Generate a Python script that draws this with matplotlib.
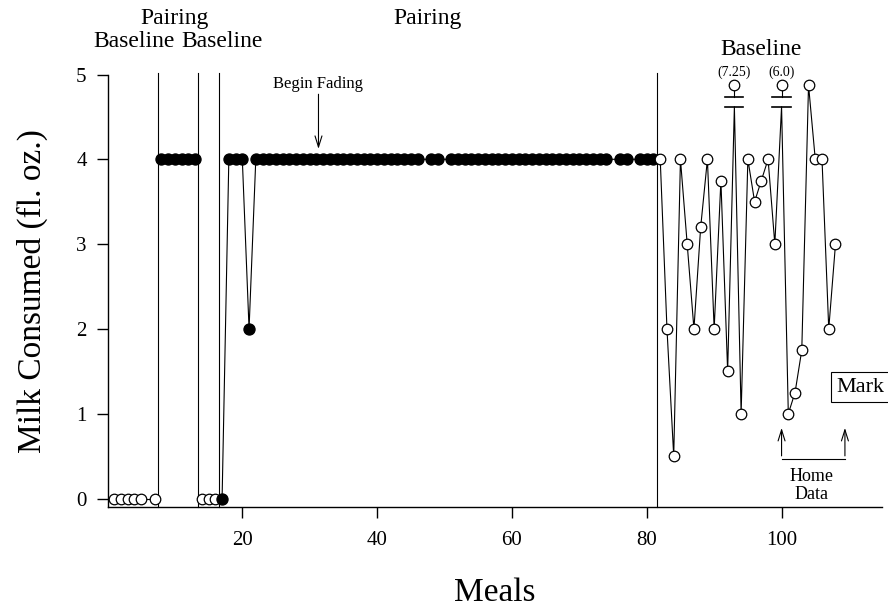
import matplotlib
matplotlib.use("Agg")
import matplotlib.pyplot as plt
import numpy as np

plt.rcParams['font.family'] = ['Liberation Serif', 'DejaVu Serif']

# ---- data ----
base1_meals = [1, 2, 3, 4, 5, 7]
base1_vals = [0, 0, 0, 0, 0, 0]

pair1_meals = [8, 9, 10, 11, 12, 13]
pair1_vals = [4, 4, 4, 4, 4, 4]

base2_meals = [14, 15, 16]
base2_vals = [0, 0, 0]

pair2_meals = [17, 18, 19, 20, 21,
               22, 23, 24, 25, 26, 27, 28, 29, 30, 31, 32, 33, 34, 35, 36, 37, 38, 39, 40,
               41, 42, 43, 44, 45, 46, 48, 49,
               51, 52, 53, 54, 55, 56, 57, 58, 59, 60, 61, 62, 63, 64, 65, 66, 67, 68, 69, 70,
               71, 72, 73, 74, 76, 77, 79, 80, 81]
pair2_vals = [0, 4, 4, 4, 2,
              4, 4, 4, 4, 4, 4, 4, 4, 4, 4, 4, 4, 4, 4, 4, 4, 4, 4, 4,
              4, 4, 4, 4, 4, 4, 4, 4,
              4, 4, 4, 4, 4, 4, 4, 4, 4, 4, 4, 4, 4, 4, 4, 4, 4, 4, 4, 4,
              4, 4, 4, 4, 4, 4, 4, 4, 4]

base3_meals = [82, 83, 84, 85, 86, 87, 88, 89, 90, 91, 92, 93, 94, 95, 96, 97, 98, 99,
               100, 101, 102, 103, 104, 105, 106, 107, 108]
base3_vals = [4, 2, 0.5, 4, 3, 2, 3.2, 4, 2, 3.75, 1.5, 7.25, 1, 4, 3.5, 3.75, 4, 3,
              6.0, 1, 1.25, 1.75, 4.875, 4, 4, 2, 3]

phase_lines = [7.5, 13.5, 16.5, 81.5]
x_ticks = [20, 40, 60, 80, 100]
y_ticks = [0, 1, 2, 3, 4, 5]

BREAK_TOP = 4.875   # plotted position of off-scale values
BREAK_LOW = 4.62    # where connecting lines end at an axis break

fig = plt.figure(figsize=(8.88, 6.12), dpi=100)
ax = fig.add_axes([107.5 / 888, 1 - 507 / 612, (882 - 107.5) / 888, (507 - 74.5) / 612])
ax.set_xlim(0, 114.9)
ax.set_ylim(-0.1, 5.0)

lw = 0.8
ms = 7.6
open_kw = dict(marker='o', ms=ms, mfc='white', mec='black', mew=0.9, color='black', lw=lw, clip_on=False, zorder=3)
fill_kw = dict(marker='o', ms=ms + 0.4, mfc='black', mec='black', mew=0.9, color='black', lw=lw, clip_on=False, zorder=3)

ax.plot(base1_meals, base1_vals, **open_kw)
ax.plot(pair1_meals, pair1_vals, **fill_kw)
ax.plot(base2_meals, base2_vals, **open_kw)
ax.plot(pair2_meals, pair2_vals, **fill_kw)

# final baseline with broken off-scale points
b3x = np.array(base3_meals, dtype=float)
b3v = np.array(base3_vals, dtype=float)
off = b3v > 5
line_v = np.where(off, BREAK_LOW, b3v)
ax.plot(b3x, line_v, color='black', lw=lw, zorder=2, clip_on=False)
mark_v = np.where(off, BREAK_TOP, b3v)
ax.plot(b3x, mark_v, ls='none', marker='o', ms=ms, mfc='white', mec='black', mew=0.9,
        zorder=4, clip_on=False)
for xv, val in zip(b3x[off], b3v[off]):
    ax.plot([xv, xv], [BREAK_TOP, 4.73], color='black', lw=lw, zorder=3, clip_on=False)
    ax.plot([xv - 1.35, xv + 1.35], [4.73, 4.73], color='black', lw=1.2, zorder=3, clip_on=False)
    ax.plot([xv - 1.35, xv + 1.35], [BREAK_LOW, BREAK_LOW], color='black', lw=1.2, zorder=3, clip_on=False)
    ax.text(xv, 5.03, f"({val:g})" if val != 6.0 else "(6.0)", ha='center', va='center',
            fontsize=10)

# phase change lines
for p in phase_lines:
    ax.plot([p, p], [-0.1, 5.02], color='black', lw=lw, zorder=1, clip_on=False)

# axes styling
for s in ['top', 'right']:
    ax.spines[s].set_visible(False)
for s in ['left', 'bottom']:
    ax.spines[s].set_linewidth(1.0)
ax.set_xticks(x_ticks)
ax.set_yticks(y_ticks)
ax.tick_params(axis='both', direction='out', length=8, width=1.0, labelsize=15, pad=7)
ax.tick_params(axis='x', pad=9)

ax.set_xlabel("Meals", fontsize=24, labelpad=20)
ax.set_ylabel("Milk Consumed (fl. oz.)", fontsize=24, labelpad=20)

# phase labels
ax.text(9.9, 5.66, "Pairing", ha='center', va='center', fontsize=17, clip_on=False)
ax.text(3.9, 5.39, "Baseline", ha='center', va='center', fontsize=17, clip_on=False)
ax.text(17.0, 5.39, "Baseline", ha='center', va='center', fontsize=17, clip_on=False)
ax.text(47.5, 5.66, "Pairing", ha='center', va='center', fontsize=17, clip_on=False)
ax.text(96.9, 5.30, "Baseline", ha='center', va='center', fontsize=17, clip_on=False)

# Begin Fading arrow
ax.annotate("", xy=(31.3, 4.09), xytext=(31.3, 4.80),
            arrowprops=dict(arrowstyle='->,head_length=0.8,head_width=0.25', color='black', lw=0.8))
ax.text(31.3, 4.89, "Begin Fading", ha='center', va='center', fontsize=12)

# Home data bracket
ax.annotate("", xy=(100.0, 0.865), xytext=(100.0, 0.47),
            arrowprops=dict(arrowstyle='->,head_length=0.8,head_width=0.25', color='black', lw=0.8))
ax.annotate("", xy=(109.4, 0.865), xytext=(109.4, 0.47),
            arrowprops=dict(arrowstyle='->,head_length=0.8,head_width=0.25', color='black', lw=0.8))
ax.plot([100.0, 109.4], [0.47, 0.47], color='black', lw=0.8, clip_on=False)
ax.text(104.4, 0.157, "Home\nData", ha='center', va='center', fontsize=13, linespacing=1.05)

# Mark box
ax.text(108.1, 1.31, "Mark", ha='left', va='center', fontsize=16, clip_on=False,
        bbox=dict(boxstyle='square,pad=0.25', fc='white', ec='black', lw=0.8))

fig.savefig("out.png", dpi=100)
